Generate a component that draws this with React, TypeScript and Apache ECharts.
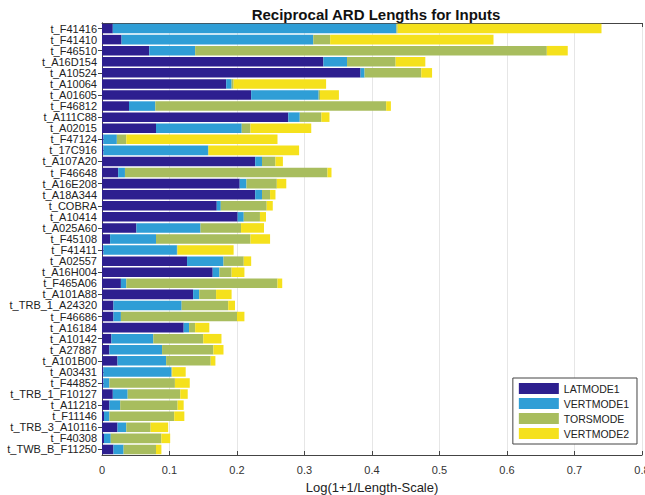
import React, { useEffect, useRef } from "react";
import * as echarts from "echarts";

const categories = [
  "t_F41416", "t_F41410", "t_F46510", "t_A16D154", "t_A10524", "t_A10064", "t_A01605", "t_F46812",
  "t_A111C88", "t_A02015", "t_F47124", "t_17C916", "t_A107A20", "t_F46648", "t_A16E208", "t_A18A344",
  "t_COBRA", "t_A10414", "t_A025A60", "t_F45108", "t_F41411", "t_A02557", "t_A16H004", "t_F465A06",
  "t_A101A88", "t_TRB_1_A24320", "t_F46686", "t_A16184", "t_A10142", "t_A27887", "t_A101B00", "t_A03431",
  "t_F44852", "t_TRB_1_F10127", "t_A11218", "t_F11146", "t_TRB_3_A10116", "t_F40308", "t_TWB_B_F11250",
];

const latmode1 = [
  0.016, 0.029, 0.070, 0.328, 0.383, 0.184, 0.221, 0.040, 0.276, 0.080,
  0.002, 0.002, 0.227, 0.024, 0.204, 0.227, 0.170, 0.201, 0.051, 0.012,
  0.002, 0.126, 0.164, 0.028, 0.135, 0.017, 0.017, 0.121, 0.014, 0.011,
  0.023, 0.002, 0.002, 0.016, 0.011, 0.003, 0.023, 0.003, 0.017,
];
const vertmode1 = [
  0.420, 0.284, 0.068, 0.035, 0.006, 0.008, 0.100, 0.039, 0.017, 0.127,
  0.020, 0.155, 0.010, 0.010, 0.010, 0.010, 0.006, 0.009, 0.095, 0.068,
  0.109, 0.054, 0.010, 0.008, 0.009, 0.101, 0.011, 0.008, 0.062, 0.078,
  0.072, 0.101, 0.009, 0.022, 0.016, 0.008, 0.013, 0.010, 0.015,
];
const torsmode = [
  0.002, 0.025, 0.521, 0.072, 0.084, 0.003, 0.002, 0.342, 0.032, 0.013,
  0.014, 0.001, 0.020, 0.300, 0.045, 0.012, 0.068, 0.024, 0.060, 0.140,
  0.001, 0.030, 0.018, 0.224, 0.025, 0.069, 0.172, 0.009, 0.074, 0.076,
  0.066, 0.001, 0.097, 0.078, 0.085, 0.096, 0.036, 0.075, 0.048,
];
const vertmode2 = [
  0.302, 0.242, 0.031, 0.044, 0.016, 0.137, 0.028, 0.007, 0.012, 0.090,
  0.224, 0.134, 0.011, 0.006, 0.014, 0.008, 0.009, 0.009, 0.034, 0.029,
  0.083, 0.011, 0.019, 0.007, 0.023, 0.010, 0.011, 0.021, 0.027, 0.015,
  0.007, 0.020, 0.022, 0.011, 0.009, 0.015, 0.026, 0.013, 0.008,
];

const seriesNames = ["LATMODE1", "VERTMODE1", "TORSMODE", "VERTMODE2"];
const seriesData = [latmode1, vertmode1, torsmode, vertmode2];
const colors = ["#2d1f8f", "#2f9ed6", "#a8bd5e", "#f5e11c"];

const FONT = "'Liberation Sans', Arial, sans-serif";

export default function App() {
  const ref = useRef<HTMLDivElement>(null);
  useEffect(() => {
    if (!ref.current) return;
    const chart = echarts.init(ref.current, null, { renderer: "svg" });
    const axisLine = { show: true, lineStyle: { color: "#444", width: 1 } };
    chart.setOption({
      animation: false,
      backgroundColor: "#ffffff",
      color: colors,
      title: {
        text: "Reciprocal ARD Lengths for Inputs",
        left: 371,
        textAlign: "center",
        top: 2,
        textStyle: { fontFamily: FONT, fontWeight: "bold", fontSize: 15, color: "#111" },
      },
      legend: {
        orient: "vertical",
        right: 8,
        bottom: 51,
        itemWidth: 40,
        itemHeight: 11,
        itemGap: 4,
        padding: [5, 8, 5, 6],
        borderColor: "#444",
        borderWidth: 1,
        backgroundColor: "#fff",
        icon: "rect",
        textStyle: { fontFamily: FONT, fontSize: 10.5, color: "#222" },
        data: seriesNames,
      },
      grid: { left: 102, right: 3, top: 23, bottom: 40, containLabel: false, outerBoundsMode: "none" },
      xAxis: [
        {
          type: "value",
          min: 0,
          max: 0.8,
          interval: 0.1,
          position: "bottom",
          axisLine,
          axisTick: { show: true, inside: true, length: 4, lineStyle: { color: "#444" } },
          axisLabel: {
            fontFamily: FONT,
            fontSize: 11,
            color: "#333",
            margin: 9,
            formatter: (v: number) => (v === 0 ? "0" : String(Math.round(v * 10) / 10)),
          },
          splitLine: { show: true, lineStyle: { color: "#e6e6e6", width: 1 } },
          name: "Log(1+1/Length-Scale)",
          nameLocation: "middle",
          nameGap: 26,
          nameTextStyle: { fontFamily: FONT, fontSize: 13, color: "#222" },
        },
        {
          type: "value",
          min: 0,
          max: 0.8,
          interval: 0.1,
          position: "top",
          axisLine,
          axisTick: { show: true, inside: true, length: 4, lineStyle: { color: "#444" } },
          axisLabel: { show: false },
          splitLine: { show: false },
        },
      ],
      yAxis: [
        {
          type: "category",
          data: categories,
          inverse: true,
          position: "left",
          axisLine,
          axisTick: { show: true, inside: true, length: 4, alignWithLabel: true, lineStyle: { color: "#444" } },
          axisLabel: { fontFamily: FONT, fontSize: 11, color: "#222", margin: 5, interval: 0 },
          splitLine: { show: false },
        },
        {
          type: "category",
          data: categories,
          inverse: true,
          position: "right",
          axisLine,
          axisTick: { show: true, inside: true, length: 4, alignWithLabel: true, lineStyle: { color: "#444" } },
          axisLabel: { show: false },
          splitLine: { show: false },
        },
      ],
      series: seriesNames.map((name, i) => ({
        name,
        type: "bar",
        stack: "total",
        xAxisIndex: 0,
        yAxisIndex: 0,
        data: seriesData[i],
        barCategoryGap: "14%",
        itemStyle: { color: colors[i] },
        emphasis: { disabled: true },
      })),
    });
    return () => chart.dispose();
  }, []);
  return <div ref={ref} style={{ width: 645, height: 495, position: "absolute", left: 0, top: 0 }} />;
}
